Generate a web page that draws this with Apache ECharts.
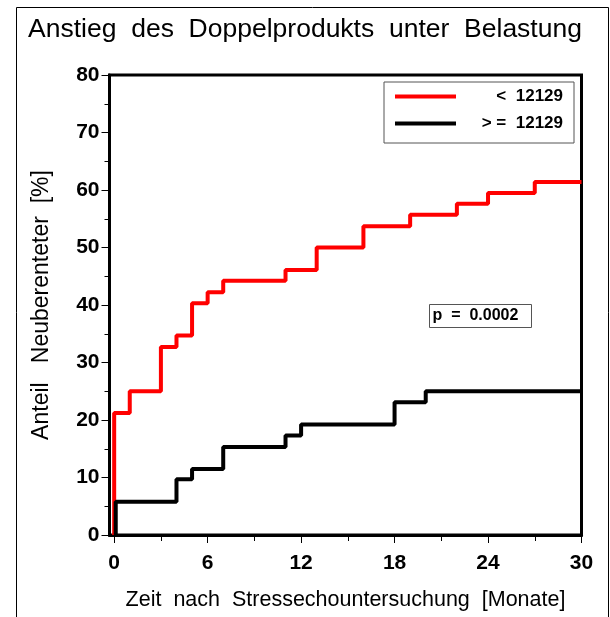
<!DOCTYPE html>
<html>
<head>
<meta charset="utf-8">
<script src="https://cdn.jsdelivr.net/npm/echarts@6/dist/echarts.min.js"></script>
<style>
html,body{margin:0;padding:0;background:#fff;}
#chart{width:610px;height:617px;}
</style>
</head>
<body>
<div id="chart"></div>
<script>
// Data
var titleText = 'Anstieg  des  Doppelprodukts  unter  Belastung';
var xAxisName = 'Zeit  nach  Stressechountersuchung  [Monate]';
var yAxisName = 'Anteil   Neuberenteter  [%]';
var xTickValues = [0, 6, 12, 18, 24, 30];
var xMinorTickValues = [3, 9, 15, 21, 27];
var seriesNames = ['<  12129', '> =  12129'];
var redTimes = [0, 0, 1, 3, 4, 5, 6, 7, 11, 13, 16, 19, 22, 24, 27, 30];
var redValues = [0, 21.2, 25.0, 32.7, 34.7, 40.3, 42.2, 44.2, 46.1, 50.0, 53.7, 55.7, 57.6, 59.5, 61.4, 61.4];
var blackTimes = [0.1, 0.1, 4, 5, 7, 11, 12, 18, 20, 30];
var blackValues = [0, 5.8, 9.7, 11.5, 15.3, 17.3, 19.2, 23.1, 25.0, 25.0];
var pValueText = 'p  =  0.0002';

function pairs(xs, ys) {
  var out = [];
  for (var i = 0; i < xs.length; i++) out.push([xs[i], ys[i]]);
  return out;
}

var FONT = 'Liberation Sans';
var chart = echarts.init(document.getElementById('chart'), null, {renderer: 'canvas'});
var option = {
  animation: false,
  backgroundColor: '#fff',
  title: {
    text: titleText,
    left: 'center',
    top: 11,
    textStyle: {fontFamily: FONT, fontSize: 26.5, fontWeight: 'normal', color: '#000'}
  },
  legend: {
    orient: 'vertical',
    left: 384,
    top: 82,
    width: 170,
    backgroundColor: '#fff',
    borderColor: '#555',
    borderWidth: 1,
    borderRadius: 0,
    padding: [6, 11, 11, 11],
    itemGap: 10,
    itemWidth: 61,
    itemHeight: 4,
    icon: 'rect',
    data: seriesNames,
    formatter: function (name) { return '{a|' + name + '}'; },
    textStyle: {
      fontFamily: FONT, fontSize: 17, fontWeight: 'bold', color: '#000',
      rich: {a: {width: 102, align: 'right', fontFamily: FONT, fontSize: 17, fontWeight: 'bold', lineHeight: 14}}
    }
  },
  grid: {
    left: 109.5, right: 28.5, top: 75, bottom: 82,
    show: true, borderColor: '#000', borderWidth: 3, backgroundColor: 'transparent'
  },
  xAxis: [{
    type: 'value',
    min: -0.3,
    max: 30,
    position: 'bottom',
    name: xAxisName,
    nameLocation: 'middle',
    nameGap: 54,
    nameTextStyle: {fontFamily: FONT, fontSize: 21.5, color: '#000'},
    axisLine: {show: true, onZero: false, lineStyle: {color: '#000', width: 3}},
    axisTick: {show: true, length: 8, customValues: xTickValues, lineStyle: {color: '#000', width: 1}},
    axisLabel: {customValues: xTickValues, margin: 18, fontFamily: FONT, fontSize: 21, fontWeight: 'bold', color: '#000'},
    splitLine: {show: false}
  }, {
    type: 'value',
    min: -0.3,
    max: 30,
    position: 'top',
    offset: -460,
    axisLine: {show: false, onZero: false},
    axisTick: {show: true, inside: true, length: 6, customValues: xMinorTickValues, lineStyle: {color: '#000', width: 1}},
    axisLabel: {show: false, customValues: xMinorTickValues},
    splitLine: {show: false}
  }],
  yAxis: {
    type: 'value',
    min: 0,
    max: 80,
    interval: 10,
    name: yAxisName,
    nameLocation: 'middle',
    nameGap: 56,
    nameTextStyle: {fontFamily: FONT, fontSize: 23, color: '#000'},
    axisLine: {show: true, onZero: false, lineStyle: {color: '#000', width: 3}},
    axisTick: {show: true, length: 8, lineStyle: {color: '#000', width: 1}},
    minorTick: {show: true, splitNumber: 2, length: 5, lineStyle: {color: '#000', width: 1}},
    axisLabel: {margin: 10, fontFamily: FONT, fontSize: 21, fontWeight: 'bold', color: '#000'},
    splitLine: {show: false}
  },
  series: [{
    name: seriesNames[0],
    type: 'line',
    step: 'end',
    showSymbol: false,
    symbol: 'none',
    color: '#ff0000',
    lineStyle: {color: '#ff0000', width: 4},
    data: pairs(redTimes, redValues),
    z: 2
  }, {
    name: seriesNames[1],
    type: 'line',
    step: 'end',
    showSymbol: false,
    symbol: 'none',
    color: '#000',
    lineStyle: {color: '#000', width: 4},
    data: pairs(blackTimes, blackValues),
    z: 3
  }],
  graphic: [{
    type: 'rect',
    left: 14, top: 5,
    shape: {width: 592, height: 640},
    style: {fill: 'none', stroke: '#000', lineWidth: 1},
    silent: true, z: -1
  }, {
    type: 'group',
    left: 429, top: 304,
    children: [{
      type: 'rect',
      shape: {width: 102, height: 23},
      style: {fill: '#fff', stroke: '#555', lineWidth: 1}
    }, {
      type: 'text',
      left: 3, top: 3,
      style: {text: pValueText, font: 'bold 16px "Liberation Sans"', fill: '#000'}
    }]
  }]
};
chart.setOption(option);
</script>
</body>
</html>
